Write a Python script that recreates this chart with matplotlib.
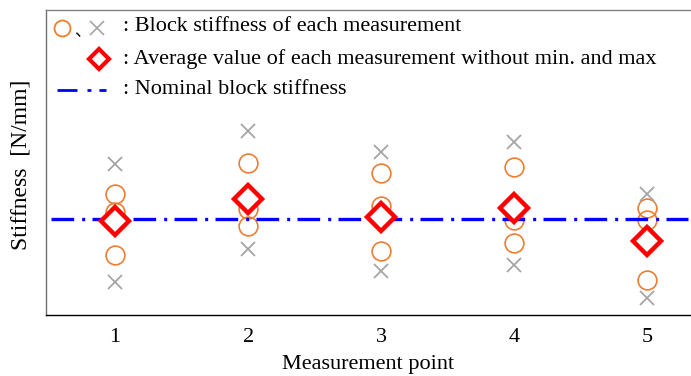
import matplotlib
matplotlib.use("Agg")
import matplotlib.pyplot as plt
from matplotlib.lines import Line2D

plt.rcParams["font.family"] = ["Liberation Serif", "DejaVu Serif"]

# Measurement points and stiffness results (N/mm)
points = [1, 2, 3, 4, 5]
mid_values = [
    [104.9, 101.4, 92.7],
    [111.2, 101.9, 98.5],
    [109.1, 102.6, 93.6],
    [110.4, 99.7, 95.2],
    [102.1, 99.7, 87.7],
]
max_values = [110.9, 117.7, 113.4, 115.4, 104.9]
min_values = [87.4, 93.9, 89.5, 90.7, 84.1]
avg_values = [99.5, 103.9, 100.4, 102.2, 95.5]
nominal = 100.0

orange = "#ED7D31"
grey = "#A5A5A5"
blue = "#0000FF"
red = "#FF0000"
fs = 16

W, H = 691, 376
fig = plt.figure(figsize=(W / 100, H / 100), dpi=100)
ax = fig.add_axes([46 / W, 61 / H, 1 - 46 / W, (315 - 9.5) / H])

# circles: the three middle measurements, crosses: min and max
for p, vals in zip(points, mid_values):
    ax.plot([p] * len(vals), vals, "o", ms=13.5, mfc="none", mec=orange, mew=1.2, zorder=3)
ax.plot(points, max_values, "x", ms=10, color=grey, mew=1.3, zorder=3)
ax.plot(points, min_values, "x", ms=10, color=grey, mew=1.3, zorder=3)

ax.plot([0.52, 5.31], [nominal, nominal], color=blue, lw=2.4,
        dashes=(6.8, 2.4, 0.9, 2.2), zorder=4)
ax.plot(points, avg_values, "D", ms=14, mfc="white", mec=red, mew=3.2, zorder=5)

ax.set_xlim(0.48, 5.33)
ax.set_ylim(80.74, 141.94)
ax.set_xticks(points)
ax.set_yticks([])
ax.tick_params(axis="x", length=0, labelsize=fs, pad=9)
ax.set_xlabel("Measurement point", fontsize=fs, labelpad=6)
ax.set_ylabel("Stiffness  [N/mm]", fontsize=17, labelpad=8.5)
ax.yaxis.set_label_coords(-0.0225, 0.49)

ax.spines["right"].set_visible(False)
ax.spines["top"].set_color("#808080")
ax.spines["left"].set_color("#707070")
ax.spines["bottom"].set_color("black")
for s in ax.spines.values():
    s.set_linewidth(1.0)


# key drawn by hand, positions in figure pixels
def fx(x):
    return x / W


def fy(y):
    return 1 - y / H


rows = [26.7, 59.3, 90.0]
fig.add_artist(Line2D([fx(61.7)], [fy(28.3)], marker="o", ms=11.5, mfc="none",
                      mec=orange, mew=1.3, ls="none"))
fig.text(fx(74), fy(31.5), "、", fontsize=12, family=["Noto Sans CJK JP"],
         va="center", ha="left")
fig.add_artist(Line2D([fx(97.3)], [fy(27.5)], marker="x", ms=10.5, color=grey,
                      mew=1.2, ls="none"))
fig.text(fx(123), fy(rows[0]), ": Block stiffness of each measurement", fontsize=fs, va="center")

fig.add_artist(Line2D([fx(99)], [fy(rows[1])], marker="D", ms=10.5, mfc="white",
                      mec=red, mew=3, ls="none"))
fig.text(fx(123), fy(rows[1]), ": Average value of each measurement without min. and max",
         fontsize=fs, va="center")

fig.add_artist(Line2D([fx(56.7), fx(105.7)], [fy(rows[2])] * 2, color=blue, lw=2,
                      dashes=(7.2, 3.6, 1.4, 2.9)))
fig.text(fx(123), fy(rows[2]), ": Nominal block stiffness", fontsize=fs, va="center")

fig.savefig("out.png", dpi=100)
